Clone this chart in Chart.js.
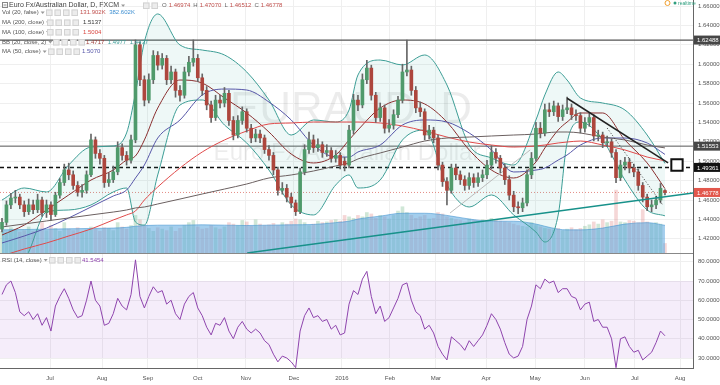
<!DOCTYPE html>
<html lang="en">
<head>
<meta charset="UTF-8">
<title>EURAUD, D</title>
<script src="https://cdn.jsdelivr.net/npm/chart.js"></script>
<style>
  html, body { margin: 0; padding: 0; background: #fff; }
  #wrap { position: relative; width: 720px; height: 385px; overflow: hidden; }
  #priceChart { position: absolute; left: 0; top: 0; }
  #rsiChart { position: absolute; left: 0; top: 254px; }
</style>
</head>
<body>
<div id="wrap">
  <canvas id="priceChart" width="720" height="254"></canvas>
  <canvas id="rsiChart" width="720" height="131"></canvas>
</div>
<script>
// one candle = two trading days, index 0 = mid June 2015
const opens = [1.430,1.437,1.455,1.462,1.463,1.455,1.448,1.455,1.450,1.460,
  1.447,1.455,1.445,1.465,1.478,1.491,1.486,1.475,1.468,1.470,
  1.486,1.522,1.508,1.503,1.478,1.481,1.489,1.514,1.506,1.501,
  1.522,1.620,1.584,1.563,1.584,1.609,1.599,1.606,1.584,1.592,
  1.573,1.568,1.592,1.602,1.606,1.586,1.573,1.558,1.545,1.563,
  1.560,1.570,1.542,1.527,1.542,1.551,1.534,1.524,1.528,1.524,
  1.512,1.506,1.491,1.470,1.472,1.463,1.457,1.448,1.489,1.512,
  1.522,1.514,1.517,1.509,1.511,1.503,1.506,1.500,1.496,1.532,
  1.563,1.558,1.584,1.596,1.568,1.545,1.555,1.534,1.537,1.548,
  1.563,1.592,1.594,1.573,1.555,1.551,1.527,1.532,1.524,1.496,
  1.479,1.470,1.493,1.486,1.481,1.475,1.483,1.478,1.483,1.486,
  1.496,1.509,1.503,1.493,1.481,1.465,1.453,1.452,1.457,1.486,
  1.503,1.534,1.529,1.553,1.551,1.557,1.546,1.553,1.555,1.548,
  1.547,1.534,1.540,1.545,1.526,1.527,1.519,1.520,1.509,1.483,
  1.496,1.499,1.493,1.489,1.475,1.463,1.453,1.455,1.460,1.46974];
const highs = [1.441,1.459,1.467,1.470,1.466,1.459,1.461,1.460,1.466,1.463,
  1.460,1.458,1.468,1.482,1.497,1.498,1.490,1.479,1.476,1.490,
  1.528,1.525,1.512,1.506,1.488,1.495,1.520,1.518,1.510,1.527,
  1.625,1.623,1.588,1.590,1.614,1.613,1.611,1.609,1.598,1.595,
  1.578,1.597,1.608,1.625,1.610,1.590,1.577,1.562,1.568,1.568,
  1.576,1.573,1.546,1.547,1.556,1.554,1.538,1.533,1.532,1.527,
  1.516,1.509,1.494,1.478,1.476,1.467,1.460,1.493,1.517,1.530,
  1.527,1.523,1.520,1.517,1.514,1.511,1.509,1.504,1.537,1.569,
  1.568,1.590,1.604,1.599,1.571,1.560,1.558,1.543,1.553,1.567,
  1.600,1.625,1.598,1.577,1.561,1.554,1.537,1.535,1.527,1.499,
  1.483,1.497,1.497,1.490,1.485,1.488,1.487,1.488,1.491,1.501,
  1.516,1.513,1.506,1.497,1.485,1.469,1.458,1.462,1.491,1.509,
  1.540,1.540,1.559,1.560,1.562,1.560,1.558,1.566,1.559,1.553,
  1.550,1.545,1.550,1.548,1.532,1.530,1.526,1.523,1.512,1.501,
  1.504,1.503,1.497,1.492,1.478,1.466,1.460,1.464,1.477,1.47070];
const lows = [1.427,1.434,1.451,1.457,1.451,1.443,1.445,1.446,1.447,1.443,
  1.442,1.439,1.443,1.462,1.475,1.481,1.471,1.464,1.463,1.467,
  1.484,1.503,1.497,1.473,1.474,1.478,1.486,1.501,1.496,1.498,
  1.519,1.578,1.557,1.560,1.580,1.594,1.595,1.579,1.580,1.566,
  1.562,1.565,1.588,1.598,1.582,1.568,1.553,1.540,1.542,1.555,
  1.556,1.537,1.522,1.524,1.538,1.530,1.519,1.520,1.519,1.508,
  1.501,1.486,1.465,1.466,1.458,1.452,1.444,1.446,1.486,1.508,
  1.509,1.510,1.504,1.505,1.499,1.499,1.492,1.490,1.493,1.528,
  1.552,1.555,1.580,1.563,1.540,1.541,1.529,1.530,1.533,1.545,
  1.560,1.588,1.568,1.550,1.546,1.522,1.523,1.519,1.491,1.474,
  1.455,1.467,1.481,1.476,1.470,1.471,1.473,1.474,1.479,1.482,
  1.492,1.498,1.488,1.476,1.460,1.448,1.446,1.448,1.454,1.482,
  1.500,1.524,1.526,1.546,1.547,1.541,1.542,1.549,1.543,1.542,
  1.529,1.530,1.536,1.521,1.521,1.514,1.515,1.504,1.478,1.480,
  1.491,1.488,1.484,1.470,1.458,1.449,1.448,1.451,1.457,1.46512];
const closes = [1.437,1.455,1.462,1.463,1.455,1.448,1.455,1.450,1.460,1.447,
  1.455,1.445,1.465,1.478,1.491,1.486,1.475,1.468,1.470,1.486,
  1.522,1.508,1.503,1.478,1.481,1.489,1.514,1.506,1.501,1.522,
  1.620,1.584,1.563,1.584,1.609,1.599,1.606,1.584,1.592,1.573,
  1.568,1.592,1.602,1.606,1.586,1.573,1.558,1.545,1.563,1.560,
  1.570,1.542,1.527,1.542,1.551,1.534,1.524,1.528,1.524,1.512,
  1.506,1.491,1.470,1.472,1.463,1.457,1.448,1.489,1.512,1.522,
  1.514,1.517,1.509,1.511,1.503,1.506,1.496,1.496,1.532,1.563,
  1.558,1.584,1.596,1.568,1.545,1.555,1.534,1.537,1.548,1.563,
  1.592,1.594,1.573,1.555,1.551,1.527,1.532,1.524,1.496,1.479,
  1.470,1.493,1.486,1.481,1.475,1.483,1.478,1.483,1.486,1.496,
  1.509,1.503,1.493,1.481,1.465,1.453,1.452,1.457,1.486,1.503,
  1.534,1.529,1.553,1.551,1.557,1.546,1.553,1.555,1.548,1.547,
  1.534,1.540,1.545,1.526,1.527,1.519,1.520,1.509,1.483,1.496,
  1.499,1.493,1.489,1.475,1.463,1.453,1.455,1.460,1.472,1.46778];
// volume in thousands
const volumes = [300,280,350,320,290,310,360,300,330,420,
  310,380,340,300,420,330,310,350,290,320,
  360,330,300,350,340,310,420,360,330,380,
  520,460,380,340,300,350,330,310,360,300,
  340,380,420,450,360,330,340,380,350,330,
  360,420,400,380,450,430,370,460,400,380,
  390,410,380,420,400,440,470,460,420,380,
  400,440,420,430,450,460,440,520,500,480,
  520,500,560,540,480,520,500,470,520,580,
  640,560,520,480,500,520,470,480,560,540,
  500,480,460,450,430,470,450,440,460,450,
  480,460,440,430,420,400,380,370,360,420,
  380,360,340,330,320,340,310,330,350,320,
  340,370,390,430,400,460,420,440,870,430,
  420,450,440,420,600,430,410,420,400,131.902];
const rsi = [63,68,70,64,54,52,54,50,53,47,
  51,44,57,62,66,61,55,51,52,60,
  70,60,57,47,48,53,61,57,55,63,
  81,62,56,62,67,64,65,58,60,53,
  50,58,62,64,56,52,46,42,48,47,
  51,44,40,46,49,45,43,45,43,39,
  37,32,28,31,30,28,25,44,52,56,
  51,52,49,50,45,47,42,43,58,65,
  63,71,75,62,53,57,49,51,56,61,
  68,69,60,54,52,45,47,43,36,32,
  29,41,39,37,34,39,36,39,42,47,
  53,50,45,38,32,30,31,36,50,57,
  68,66,71,69,70,64,66,66,62,61,
  55,58,59,49,50,46,46,40,25,40,
  41,36,33,34,29,31,33,38,44,41.5454];

// indicator lines, read at these candle indexes
const lineIdx = [0,5,10,15,20,25,28,30,32,35,40,45,50,55,60,65,70,75,78,80,85,90,95,100,105,110,115,120,122,125,127,130,135,140,145,149];
const bbUpper = [1.4600,1.4724,1.4683,1.4961,1.5146,1.5157,1.5291,1.5703,1.6229,1.6518,1.6198,1.6146,1.6095,1.5920,1.5631,1.5270,1.5425,1.5404,1.5528,1.5889,1.6043,1.5992,1.6095,1.5786,1.5167,1.5033,1.4961,1.5425,1.5683,1.5920,1.5837,1.5652,1.5600,1.5528,1.5270,1.4977];
const bbBasis = [1.4239,1.4342,1.4497,1.4652,1.4806,1.4909,1.5012,1.5054,1.5219,1.5548,1.5837,1.5806,1.5652,1.5497,1.5301,1.5074,1.4982,1.5064,1.5219,1.5322,1.5548,1.5631,1.5590,1.5404,1.5116,1.4909,1.4827,1.4992,1.5136,1.5322,1.5404,1.5497,1.5497,1.5219,1.4982,1.4717];
const bbLower = [1.3961,1.4002,1.4476,1.4497,1.4549,1.4683,1.4724,1.4373,1.4342,1.4858,1.5579,1.5631,1.5373,1.5188,1.4909,1.4549,1.4446,1.4755,1.4858,1.4724,1.4806,1.5219,1.5322,1.4755,1.4528,1.4652,1.4446,1.4270,1.4167,1.4446,1.5188,1.5404,1.5219,1.4806,1.4497,1.4437];
const ma50 = [1.4157,1.4229,1.4311,1.4415,1.4528,1.4641,1.4703,1.4827,1.4961,1.5239,1.5425,1.5683,1.5744,1.5734,1.5610,1.5425,1.5167,1.5043,1.5043,1.5095,1.5167,1.5373,1.5425,1.5404,1.5291,1.5116,1.4889,1.4909,1.4930,1.5012,1.5064,1.5167,1.5239,1.5239,1.5188,1.5070];
const ma100 = [1.4023,1.4095,1.4157,1.4229,1.4301,1.4394,1.4446,1.4487,1.4600,1.4734,1.4930,1.5095,1.5219,1.5311,1.5384,1.5394,1.5404,1.5404,1.5404,1.5404,1.5394,1.5363,1.5311,1.5249,1.5198,1.5167,1.5146,1.5157,1.5167,1.5188,1.5198,1.5208,1.5167,1.5116,1.5043,1.5004];
const ma200 = [1.4322,1.4353,1.4384,1.4415,1.4446,1.4476,1.4497,1.4518,1.4528,1.4559,1.4610,1.4662,1.4713,1.4765,1.4827,1.4858,1.4899,1.4951,1.4982,1.5023,1.5085,1.5146,1.5208,1.5239,1.5249,1.5260,1.5270,1.5280,1.5291,1.5301,1.5301,1.5291,1.5249,1.5219,1.5167,1.5137];
const volMA = [320,325,330,335,340,345,355,370,380,385,385,390,385,380,385,390,395,420,440,470,510,550,550,520,470,440,440,400,370,330,320,320,345,400,420,382.602];

// drawings
const levels = [1.62488, 1.51553, 1.49361];
const upTrendX = [55.1, 155.3], upTrendY = [1.4054, 1.4672];
const downTrendX = [127.0, 149.7], downTrendY = [1.5649, 1.4982];
const dotTrendX = [136.0, 148.5], dotTrendY = [1.5342, 1.4549];
const thinTrendX = [100.7, 118.7], thinTrendY = [1.4466, 1.5116];
const targetBox = { x: 151.7, y: 1.4961 };

const monthPos = [10.8, 22.5, 32.8, 44.0, 54.8, 65.6, 76.4, 87.2, 97.5, 108.8, 119.8, 131.0, 142.2, 152.4];
const monthLabels = ['Jul','Aug','Sep','Oct','Nov','Dec','2016','Feb','Mar','Apr','May','Jun','Jul','Aug'];
const priceTicks = [1.42,1.44,1.46,1.48,1.50,1.52,1.54,1.56,1.58,1.60,1.62,1.64,1.66];
const rsiTicks = [30,40,50,60,70,80];
const rsiBand = [30, 70];

const X_MIN = -0.45, X_MAX = 155.3;
const P_MIN = 1.40537, P_MAX = 1.66619;
const R_MIN = 24.81, R_MAX = 84.03;
const last = closes.length - 1;

const pts = (xs, ys) => xs.map((x, i) => ({ x: x, y: ys[i] }));
const span = v => [{ x: X_MIN, y: v }, { x: X_MAX, y: v }];

function line(data, color, width, extra) {
  return Object.assign({
    type: 'line', data: data, borderColor: color, borderWidth: width,
    pointRadius: 0, fill: false, cubicInterpolationMode: 'monotone'
  }, extra || {});
}

function caret(ctx, x, y) {
  ctx.fillStyle = '#999';
  ctx.beginPath();
  ctx.moveTo(x, y - 1); ctx.lineTo(x + 4, y - 1); ctx.lineTo(x + 2, y + 1.5);
  ctx.fill();
}

function boxes(ctx, x, y, n) {
  for (let k = 0; k < n; k++) {
    ctx.fillStyle = '#ececec';
    ctx.fillRect(x + k * 8.5, y - 3, 6.5, 6.5);
    ctx.strokeStyle = '#d2d2d2';
    ctx.lineWidth = 1;
    ctx.strokeRect(x + k * 8.5 + 0.5, y - 2.5, 5.5, 5.5);
  }
}

function studyRow(ctx, name, y, boxX, valX, values) {
  ctx.font = '6px Arial';
  ctx.fillStyle = '#555';
  ctx.fillText(name, 2, y);
  caret(ctx, 4 + ctx.measureText(name).width, y);
  boxes(ctx, boxX, y, 4);
  let x = valX;
  values.forEach(([t, c]) => {
    ctx.fillStyle = c;
    ctx.fillText(t, x, y);
    x += ctx.measureText(t).width + 3.5;
  });
}

const priceOverlay = {
  id: 'priceOverlay',
  beforeDatasetsDraw(chart) {
    const ctx = chart.ctx;
    ctx.save();
    ctx.fillStyle = 'rgba(0,0,0,0.075)';
    ctx.textAlign = 'center';
    ctx.font = '44px Arial';
    ctx.fillText('EURAUD, D', 351, 123);
    ctx.font = '24px Arial';
    ctx.fillText('Euro Fx/Australian Dollar', 347, 160);
    ctx.restore();
  },
  afterDraw(chart) {
    const ctx = chart.ctx;
    const ys = chart.scales.y;
    ctx.save();
    ctx.textAlign = 'left';
    ctx.textBaseline = 'middle';

    // price tags on the axis
    const tags = [[levels[0], '#464646'], [levels[1], '#464646'], [levels[2], '#111'], [closes[last], '#e2574c']];
    tags.forEach(([p, bg]) => {
      const py = ys.getPixelForValue(p);
      ctx.fillStyle = bg;
      ctx.fillRect(694, py - 4.5, 26, 9);
      ctx.fillStyle = '#fff';
      ctx.font = '6px Arial';
      ctx.fillText(p.toFixed(5), 697, py + 0.5);
    });

    // title row
    ctx.strokeStyle = '#888';
    ctx.lineWidth = 1;
    ctx.strokeRect(2.5, 2.5, 5, 5);
    ctx.beginPath(); ctx.moveTo(3.5, 5); ctx.lineTo(6.5, 5); ctx.stroke();
    const title = 'Euro Fx/Australian Dollar, D, FXCM';
    ctx.font = '7px Arial';
    ctx.fillStyle = '#444';
    ctx.fillText(title, 9, 5.5);
    caret(ctx, 11 + ctx.measureText(title).width, 5.5);
    boxes(ctx, 143, 5.5, 2);
    ctx.font = '6px Arial';
    let ox = 162;
    [['O', opens[last]], ['H', highs[last]], ['L', lows[last]], ['C', closes[last]]].forEach(([lab, v]) => {
      ctx.fillStyle = '#666';
      ctx.fillText(lab, ox, 5.5);
      ox += ctx.measureText(lab).width + 2;
      const t = v.toFixed(5);
      ctx.fillStyle = '#c0504d';
      ctx.fillText(t, ox, 5.5);
      ox += ctx.measureText(t).width + 3;
    });

    const k = lineIdx.length - 1;
    studyRow(ctx, 'Vol (20, false)', 12.5, 46, 80, [[volumes[last].toFixed(3) + 'K', '#c0504d'], [volMA[k].toFixed(3) + 'K', '#3d8fd1']]);
    studyRow(ctx, 'MA (200, close)', 22.5, 47, 83, [[ma200[k].toFixed(4), '#333']]);
    studyRow(ctx, 'MA (100, close)', 32, 47, 83, [[ma100[k].toFixed(4), '#d9453f']]);
    studyRow(ctx, 'BB (20, close, 2)', 42, 53, 86, [[bbBasis[k].toFixed(4), '#a0413c'], [bbUpper[k].toFixed(4), '#3b9c96'], [bbLower[k].toFixed(4), '#3b9c96']]);
    studyRow(ctx, 'MA (50, close)', 51.5, 48, 82, [[ma50[k].toFixed(4), '#5656a8']]);

    // realtime marker
    ctx.strokeStyle = '#f0a030';
    ctx.beginPath(); ctx.arc(667.5, 3, 2.5, 0, 2 * Math.PI); ctx.stroke();
    ctx.fillStyle = '#2e9e7e';
    ctx.beginPath(); ctx.arc(675, 3, 1.5, 0, 2 * Math.PI); ctx.fill();
    ctx.font = '5px Arial';
    ctx.fillText('realtime', 678, 3.5);
    ctx.restore();
  }
};

const isUp = closes.map((c, i) => c >= opens[i]);
const bodyColors = isUp.map(u => u ? '#4f9a6b' : '#ad463d');
const volColors = isUp.map(u => u ? 'rgba(120,185,140,0.35)' : 'rgba(225,140,140,0.35)');

const datasets = [
  { type: 'bar', data: opens.map((o, i) => ({ x: i, y: [o, closes[i]] })), backgroundColor: bodyColors,
    barThickness: 3, minBarLength: 1, grouped: false, order: 0 },
  { type: 'bar', data: lows.map((l, i) => ({ x: i, y: [l, highs[i]] })), backgroundColor: '#666',
    barThickness: 1, grouped: false, order: 1 },
  line(pts(lineIdx, ma200), '#6b6060', 1, { order: 3 }),
  line(pts(lineIdx, ma100), '#e04a4a', 1, { order: 3 }),
  line(pts(lineIdx, ma50), '#5656a8', 1, { order: 3 }),
  line(pts(lineIdx, bbBasis), '#8a2f2f', 1, { order: 3 }),
  line(pts(lineIdx, bbUpper), '#3c9d95', 1, { order: 4 }),
  line(pts(lineIdx, bbLower), '#3c9d95', 1, { order: 4, fill: '-1', backgroundColor: 'rgba(70,175,165,0.09)' }),
  line(span(levels[0]), '#555', 1.2, { order: 5 }),
  line(span(levels[1]), '#555', 1, { order: 5 }),
  line(span(levels[2]), '#111', 1.5, { order: 5, borderDash: [4, 3] }),
  line(span(closes[last]), 'rgba(215,90,80,0.7)', 1, { order: 5, borderDash: [1, 2] }),
  line(pts(upTrendX, upTrendY), '#17918a', 1.5, { order: -1 }),
  line(pts(downTrendX, downTrendY), '#222', 1.5, { order: -1 }),
  line(pts(dotTrendX, dotTrendY), '#333', 1, { order: -1, borderDash: [1, 2] }),
  line(pts(thinTrendX, thinTrendY), '#bbb', 1, { order: 2 }),
  { type: 'line', data: [targetBox], showLine: false, pointStyle: 'rect', pointRadius: 8,
    pointBorderColor: '#111', pointBorderWidth: 2, pointBackgroundColor: '#fff', order: -2 },
  line(pts(lineIdx, volMA), 'rgba(70,150,210,0.6)', 1, { yAxisID: 'vol', fill: 'origin', backgroundColor: 'rgba(90,165,222,0.55)', order: 7 }),
  { type: 'bar', yAxisID: 'vol', data: volumes.map((v, i) => ({ x: i, y: v })), backgroundColor: volColors,
    barThickness: 3, grouped: false, order: 8 }
];

new Chart(document.getElementById('priceChart'), {
  type: 'bar',
  data: { datasets: datasets },
  options: {
    responsive: false, animation: false, events: [], devicePixelRatio: 1,
    layout: { padding: 0, autoPadding: false },
    plugins: { legend: { display: false }, tooltip: { enabled: false } },
    scales: {
      x: {
        type: 'linear', min: X_MIN, max: X_MAX, offset: false,
        grid: { color: '#efefef', drawTicks: false, offset: false },
        border: { display: true, color: '#888' },
        ticks: { display: false },
        afterBuildTicks: s => { s.ticks = monthPos.map(v => ({ value: v })); },
        afterFit: s => { s.height = 1; s.paddingLeft = 0; s.paddingRight = 0; }
      },
      y: {
        position: 'right', min: P_MIN, max: P_MAX,
        grid: { color: '#efefef', drawTicks: false },
        border: { display: true, color: '#666' },
        ticks: { font: { size: 6, family: 'Arial' }, color: '#555', padding: 5, callback: v => v.toFixed(5) },
        afterBuildTicks: s => { s.ticks = priceTicks.map(v => ({ value: v })); },
        afterFit: s => { s.width = 27; s.paddingTop = 0; s.paddingBottom = 0; }
      },
      vol: { display: false, position: 'left', min: 0, max: 3500 }
    }
  },
  plugins: [priceOverlay]
});

const rsiOverlay = {
  id: 'rsiOverlay',
  beforeDatasetsDraw(chart) {
    const { ctx, chartArea: a } = chart;
    const ys = chart.scales.y;
    const top = ys.getPixelForValue(rsiBand[1]);
    const bot = ys.getPixelForValue(rsiBand[0]);
    ctx.save();
    ctx.fillStyle = 'rgba(155,80,210,0.1)';
    ctx.fillRect(a.left, top, a.right - a.left, bot - top);
    ctx.restore();
  },
  afterDraw(chart) {
    const ctx = chart.ctx;
    ctx.save();
    ctx.textAlign = 'left';
    ctx.textBaseline = 'middle';
    studyRow(ctx, 'RSI (14, close)', 6, 49, 82, [[rsi[last].toFixed(4), '#8e44ad']]);
    ctx.restore();
  }
};

new Chart(document.getElementById('rsiChart'), {
  type: 'line',
  data: {
    datasets: [{
      data: rsi.map((v, i) => ({ x: i, y: v })), borderColor: '#8e44ad', borderWidth: 1,
      pointRadius: 0, tension: 0, fill: false
    }]
  },
  options: {
    responsive: false, animation: false, events: [], devicePixelRatio: 1,
    layout: { padding: 0, autoPadding: false },
    plugins: { legend: { display: false }, tooltip: { enabled: false } },
    scales: {
      x: {
        type: 'linear', min: X_MIN, max: X_MAX,
        grid: { color: '#efefef', drawTicks: false },
        border: { display: true, color: '#666' },
        ticks: { font: { size: 6, family: 'Arial' }, color: '#555', padding: 7, autoSkip: false, maxRotation: 0,
          callback: (v, i) => monthLabels[i] },
        afterBuildTicks: s => { s.ticks = monthPos.map(v => ({ value: v })); },
        afterFit: s => { s.height = 17; s.paddingLeft = 0; s.paddingRight = 0; }
      },
      y: {
        position: 'right', min: R_MIN, max: R_MAX,
        grid: { color: '#efefef', drawTicks: false },
        border: { display: true, color: '#666' },
        ticks: { font: { size: 6, family: 'Arial' }, color: '#555', padding: 5, callback: v => v.toFixed(4) },
        afterBuildTicks: s => { s.ticks = rsiTicks.map(v => ({ value: v })); },
        afterFit: s => { s.width = 27; s.paddingTop = 0; s.paddingBottom = 0; }
      }
    }
  },
  plugins: [rsiOverlay]
});
</script>
</body>
</html>
